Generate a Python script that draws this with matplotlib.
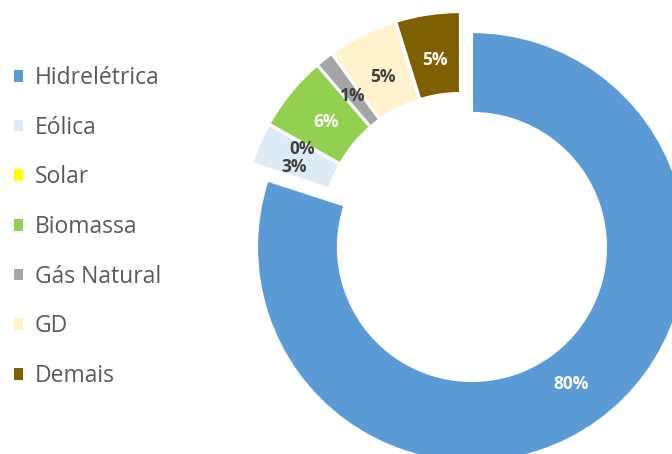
import matplotlib.pyplot as plt

# matriz de geração por fonte (%)
fontes = ["Hidrelétrica", "Eólica", "Solar", "Biomassa", "Gás Natural", "GD", "Demais"]
valores = [80.0, 3.1, 0.0, 5.6, 1.3, 5.2, 4.8]
cores = ["#5B9BD5", "#DDEBF7", "#FFFF00", "#92D050", "#A5A5A5", "#FFF2CC", "#7F6000"]
cor_rotulo = ["white", "#404040", "#404040", "white", "#404040", "#404040", "white"]
afastamento = [0.089, 0.021, 0.021, 0.021, 0.021, 0.021, 0.021]

W, H = 672, 454
cx, cy, R = 460.7, 231.5, 215  # centro e raio em pixels

fig = plt.figure(figsize=(W / 100, H / 100), dpi=100)
ax = fig.add_axes([0, 0, 1, 1])

wedges, textos, pcts = ax.pie(
    valores, colors=cores, explode=afastamento,
    startangle=90, counterclock=False,
    autopct="%.0f%%", pctdistance=0.785,
    wedgeprops=dict(width=0.377, linewidth=1.6, edgecolor="white"),
    textprops=dict(fontsize=12.5, fontweight="bold", family="Open Sans"),
)
for t, c in zip(pcts, cor_rotulo):
    t.set_color(c)

# afasta um pouco os rótulos de Eólica e Solar, que ficam colados
for i, (dx, dy) in {1: (-8, -5), 2: (-7, -2)}.items():
    x, y = pcts[i].get_position()
    pcts[i].set_position((x + dx / R, y + dy / R))

ax.set_aspect("equal")
ax.set_xlim(-cx / R, (W - cx) / R)
ax.set_ylim(-(H - cy) / R, cy / R)
ax.axis("off")

leg = fig.legend(
    wedges, fontes, loc="upper left", bbox_to_anchor=(14 / W, 1 - 66 / H),
    frameon=False, borderpad=0, borderaxespad=0,
    handlelength=0.4, handleheight=0.4, handletextpad=0.5,
    labelspacing=1.12, prop=dict(family="Open Sans", size=16.5),
)
for t in leg.get_texts():
    t.set_color("#595959")
for h in leg.legend_handles:
    h.set_linewidth(0)

fig.savefig("out.png", dpi=100)
